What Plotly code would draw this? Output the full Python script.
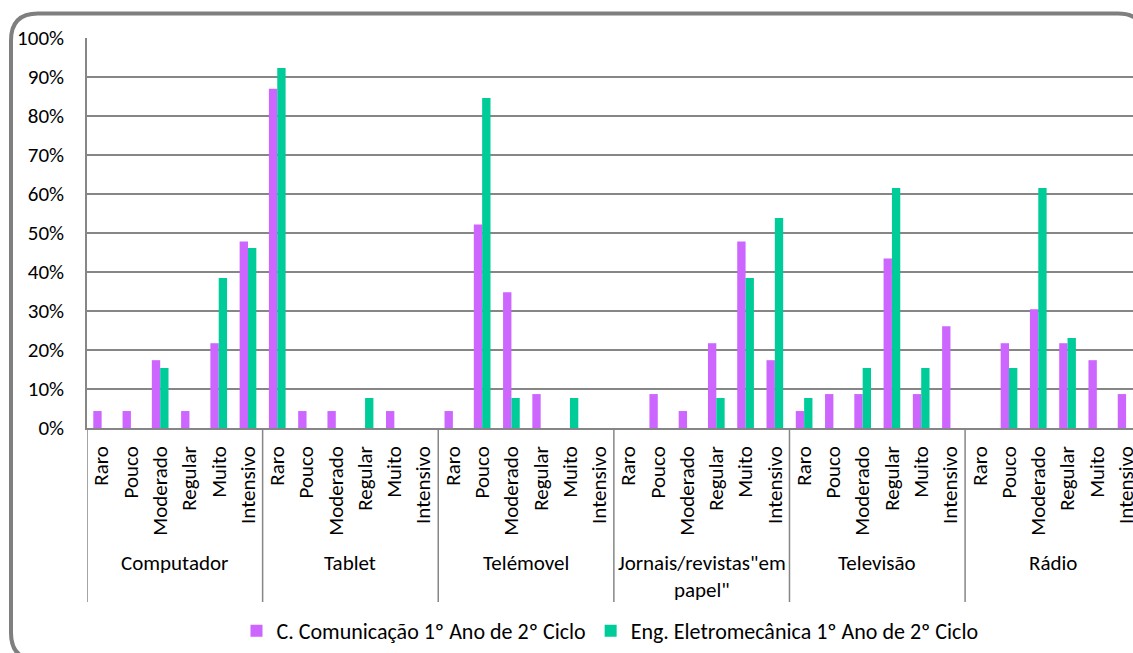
import plotly.graph_objects as go

# ---- data ----
groups = ["Computador", "Tablet", "Telémovel", "Jornais/revistas\"em<br>papel\"", "Televisão", "Rádio"]
levels = ["Raro", "Pouco", "Moderado", "Regular", "Muito", "Intensivo"]
series_names = ["C. Comunicação 1º Ano de 2º Ciclo", "Eng. Eletromecânica 1º Ano de 2º Ciclo"]

comunicacao = [
    4.35, 4.35, 17.39, 4.35, 21.74, 47.83,     # Computador
    86.96, 4.35, 4.35, 0, 4.35, 0,             # Tablet
    4.35, 52.17, 34.78, 8.70, 0, 0,            # Telémovel
    0, 8.70, 4.35, 21.74, 47.83, 17.39,        # Jornais
    4.35, 8.70, 8.70, 43.48, 8.70, 26.09,      # Televisão
    0, 21.74, 30.43, 21.74, 17.39, 8.70,       # Rádio
]
eletromecanica = [
    0, 0, 15.38, 0, 38.46, 46.15,
    92.31, 0, 0, 7.69, 0, 0,
    0, 84.62, 7.69, 0, 7.69, 0,
    0, 0, 0, 7.69, 38.46, 53.85,
    7.69, 0, 15.38, 61.54, 15.38, 0,
    0, 15.38, 61.54, 23.08, 0, 0,
]
yticks = list(range(0, 101, 10))

PURPLE = "#CC66FF"
GREEN = "#00CC99"
GRAY = "#868686"
FONT = "Carlito, Lato, sans-serif"
FS = 21

n = len(levels)
xpos = [g * n + l for g in range(len(groups)) for l in range(n)]
ticktext = [levels[l] for g in range(len(groups)) for l in range(n)]

W, H = 1133, 653
ML, MR, MT, MB = 87, 0, 38, 225
PW, PH = W - ML - MR, H - MT - MB
cat_px = 29.27
xmax = -0.5 + PW / cat_px

def px(x):
    return (x - ML) / PW

def py(y):
    return (H - MB - y) / PH

fig = go.Figure()
fig.add_trace(go.Bar(x=xpos, y=comunicacao, name=series_names[0], marker=dict(color=PURPLE, line=dict(width=0))))
fig.add_trace(go.Bar(x=xpos, y=eletromecanica, name=series_names[1], marker=dict(color=GREEN, line=dict(width=0))))

shapes = []
# group dividers below axis
for g in range(len(groups) + 1):
    xb = g * n - 0.5
    shapes.append(dict(type="line", xref="x", yref="paper", x0=xb, x1=xb, y0=0, y1=py(602),
                       line=dict(color=GRAY, width=1.5), layer="above"))

# rounded outer border
x0, x1, y0, y1, r = 11, 1145, 13.5, 660, 27
path = (f"M {px(x0)},{py(y0 + r)} "
        f"Q {px(x0)},{py(y0)} {px(x0 + r)},{py(y0)} "
        f"L {px(x1 - r)},{py(y0)} "
        f"Q {px(x1)},{py(y0)} {px(x1)},{py(y0 + r)} "
        f"L {px(x1)},{py(y1 - r)} "
        f"Q {px(x1)},{py(y1)} {px(x1 - r)},{py(y1)} "
        f"L {px(x0 + r)},{py(y1)} "
        f"Q {px(x0)},{py(y1)} {px(x0)},{py(y1 - r)} Z")
shapes.append(dict(type="path", xref="paper", yref="paper", path=path,
                   line=dict(color="#7F7F7F", width=4), fillcolor="rgba(0,0,0,0)", layer="above"))

annotations = []
for g, name in enumerate(groups):
    annotations.append(dict(x=g * n + (n - 1) / 2, xref="x", y=py(548), yref="paper",
                            text=name, showarrow=False, xanchor="center", yanchor="top",
                            font=dict(family=FONT, size=FS, color="black")))

fig.update_layout(
    width=W, height=H, autosize=False,
    margin=dict(l=ML, r=MR, t=MT, b=MB, autoexpand=False),
    paper_bgcolor="white", plot_bgcolor="white",
    barmode="group", bargap=0.43, bargroupgap=0,
    font=dict(family=FONT, size=FS, color="black"),
    xaxis=dict(range=[-0.5, xmax], tickmode="array", tickvals=xpos, ticktext=ticktext,
               tickangle=-90, showgrid=False, zeroline=False, showline=True,
               linecolor=GRAY, linewidth=1.5, ticks="", ticklabelstandoff=8,
               ticklabeloverflow="allow", automargin=False,
               tickfont=dict(family=FONT, size=FS, color="black")),
    yaxis=dict(range=[0, 100], tickmode="array", tickvals=yticks,
               ticktext=[f"{v}%" for v in yticks], automargin=False,
               showgrid=True, gridcolor=GRAY, gridwidth=1.5, zeroline=False,
               showline=True, linecolor=GRAY, linewidth=1.5, ticks="",
               ticklabelstandoff=17, tickfont=dict(family=FONT, size=FS, color="black")),
    legend=dict(orientation="h", x=0.5, xanchor="center", y=py(631), yanchor="middle",
                font=dict(family=FONT, size=22, color="black"), itemwidth=30,
                bgcolor="rgba(0,0,0,0)"),
    shapes=shapes, annotations=annotations,
)

fig.write_html("out.html")
